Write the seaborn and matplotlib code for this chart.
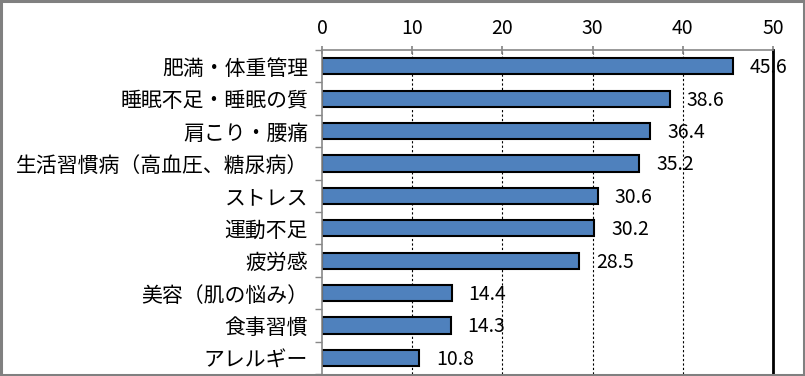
"""Horizontal bar chart of health concerns (percent)."""

import matplotlib

matplotlib.use("Agg")

import matplotlib.pyplot as plt
import pandas as pd
import seaborn as sns
from matplotlib.patches import Rectangle

categories = [
    "肥満・体重管理",
    "睡眠不足・睡眠の質",
    "肩こり・腰痛",
    "生活習慣病（高血圧、糖尿病）",
    "ストレス",
    "運動不足",
    "疲労感",
    "美容（肌の悩み）",
    "食事習慣",
    "アレルギー",
]
values = [45.6, 38.6, 36.4, 35.2, 30.6, 30.2, 28.5, 14.4, 14.3, 10.8]
x_ticks = [0, 10, 20, 30, 40, 50]

sns.set_theme(style="white")
plt.rcParams["font.family"] = ["Noto Sans CJK JP", "DejaVu Sans"]
plt.rcParams["text.color"] = "black"
plt.rcParams["xtick.labelcolor"] = "black"
plt.rcParams["ytick.labelcolor"] = "black"

df = pd.DataFrame({"category": categories, "value": values})

fig = plt.figure(figsize=(8.05, 3.76), dpi=100)
ax = fig.add_axes([0.4, 0.005, 0.5602, 0.862])

sns.barplot(
    data=df,
    x="value",
    y="category",
    orient="y",
    color="#4F81BD",
    saturation=1,
    width=0.5,
    edgecolor="black",
    linewidth=1.5,
    ax=ax,
)

for i, v in enumerate(values):
    ax.annotate(
        f"{v:.1f}",
        xy=(v, i),
        xytext=(12, -1),
        textcoords="offset points",
        ha="left",
        va="center",
        fontsize=14,
        color="black",
    )

ax.set_xlim(0, 50)
ax.set_ylim(len(categories) - 0.5, -0.5)
ax.set_xticks(x_ticks)
ax.xaxis.tick_top()
ax.tick_params(axis="x", which="major", direction="inout", length=6,
               color="#888888", labelsize=14, pad=5)
ax.set_yticks(range(len(categories)))
ax.set_yticklabels(categories, fontsize=15)
ax.set_yticks([i + 0.5 for i in range(-1, len(categories))], minor=True)
ax.tick_params(axis="y", which="major", length=0, pad=10)
ax.tick_params(axis="y", which="minor", length=5, color="#888888", left=True)
ax.set_xlabel("")
ax.set_ylabel("")

for gx in x_ticks[1:-1]:
    ax.axvline(gx, color="black", linestyle=(0, (2, 2)), linewidth=0.8, zorder=0)

ax.spines["top"].set_color("#888888")
ax.spines["left"].set_color("#888888")
ax.spines["top"].set_linewidth(1.2)
ax.spines["left"].set_linewidth(1.2)
ax.spines["bottom"].set_visible(False)
ax.spines["right"].set_color("black")
ax.spines["right"].set_linewidth(2)

fig.patches.append(
    Rectangle((0.0015, 0.003), 0.997, 0.994, transform=fig.transFigure,
              fill=False, edgecolor="#808080", linewidth=2.2)
)

fig.savefig("out.png", dpi=100)
